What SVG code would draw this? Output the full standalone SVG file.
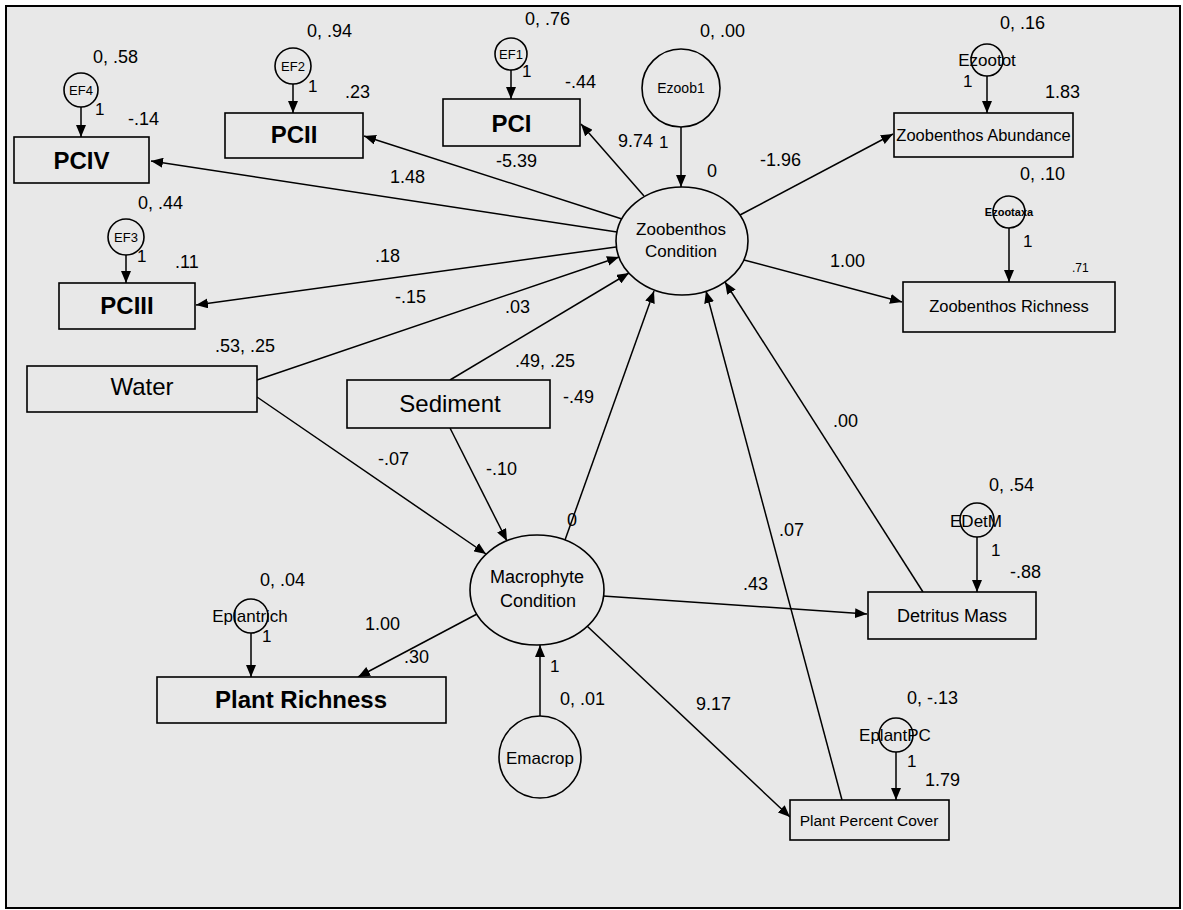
<svg xmlns="http://www.w3.org/2000/svg" width="1183" height="910" viewBox="0 0 1183 910">
<defs>
<marker id="ah" viewBox="0 0 12 10" refX="12" refY="5" markerWidth="12" markerHeight="10" orient="auto" markerUnits="userSpaceOnUse"><path d="M0,0 L12,5 L0,10 z" fill="#000"/></marker>
<style>
.bg{fill:#e8e8e8;stroke:#000;stroke-width:2}
.box{fill:#e8e8e8;stroke:#000;stroke-width:1.6}
.ell{fill:#e8e8e8;stroke:#000;stroke-width:1.6}
.con line{stroke:#000;stroke-width:1.5;marker-end:url(#ah)}
text{font-family:"Liberation Sans",Arial,sans-serif;fill:#000}
.num{font-size:18px}
.one{font-size:17px}
.pc{font-size:24px;font-weight:bold;text-anchor:middle}
.big{font-size:24px;text-anchor:middle}
.lat{font-size:17px;text-anchor:middle}
.err{font-size:13px;text-anchor:middle}
.mid{text-anchor:middle}
</style>
</defs>
<rect x="0" y="0" width="1183" height="910" fill="#fff"/>
<rect class="bg" x="6" y="6" width="1174" height="902"/>

<g id="connectors" class="con">
<line x1="617" y1="232" x2="151" y2="161"/>
<line x1="622" y1="219" x2="364" y2="136"/>
<line x1="644" y1="196" x2="581" y2="124"/>
<line x1="616" y1="247" x2="196" y2="305"/>
<line x1="257" y1="380" x2="619" y2="257"/>
<line x1="450" y1="380" x2="629" y2="273"/>
<line x1="565" y1="540" x2="654" y2="291"/>
<line x1="842" y1="800" x2="706" y2="291"/>
<line x1="923" y1="592" x2="725" y2="282"/>
<line x1="740" y1="215" x2="893" y2="134"/>
<line x1="744" y1="260" x2="902" y2="302"/>
<line x1="257" y1="397" x2="486" y2="554"/>
<line x1="450" y1="428" x2="507" y2="541"/>
<line x1="477" y1="614" x2="358" y2="677"/>
<line x1="603" y1="596" x2="867" y2="614"/>
<line x1="587" y1="626" x2="790" y2="817"/>
<line x1="540" y1="716" x2="540" y2="645"/>
<line x1="81" y1="107" x2="81" y2="137"/>
<line x1="293" y1="84" x2="293" y2="113"/>
<line x1="126" y1="255" x2="126" y2="283"/>
<line x1="511" y1="70" x2="511" y2="99"/>
<line x1="681" y1="127" x2="681" y2="187"/>
<line x1="987" y1="76" x2="987" y2="113"/>
<line x1="1009" y1="228" x2="1009" y2="282"/>
<line x1="977" y1="537" x2="977" y2="592"/>
<line x1="896" y1="752" x2="896" y2="800"/>
<line x1="251" y1="633" x2="251" y2="677"/>
</g>

<g id="PCIV"><rect class="box" x="14" y="137" width="135" height="46"/><text class="pc" x="81.5" y="169">PCIV</text></g>
<g id="PCII"><rect class="box" x="225" y="113" width="138" height="45"/><text class="pc" x="294" y="143">PCII</text></g>
<g id="PCIII"><rect class="box" x="59" y="283" width="136" height="46"/><text class="pc" x="127" y="314">PCIII</text></g>
<g id="PCI"><rect class="box" x="443" y="99" width="137" height="47"/><text class="pc" x="511.5" y="132">PCI</text></g>
<g id="ZoobAbund"><rect class="box" x="894" y="113" width="179" height="44"/><text class="mid" style="font-size:16.5px" x="983.5" y="141">Zoobenthos Abundance</text></g>
<g id="ZoobRich"><rect class="box" x="903" y="282" width="212" height="50"/><text class="mid" style="font-size:16.5px" x="1009" y="312">Zoobenthos Richness</text></g>
<g id="Water"><rect class="box" x="27" y="366" width="230" height="46"/><text class="big" x="142" y="395">Water</text></g>
<g id="Sediment"><rect class="box" x="347" y="380" width="203" height="48"/><text class="big" x="450" y="412">Sediment</text></g>
<g id="PlantRich"><rect class="box" x="157" y="677" width="289" height="46"/><text class="pc" x="301" y="708">Plant Richness</text></g>
<g id="Detritus"><rect class="box" x="868" y="592" width="168" height="47"/><text class="mid" style="font-size:18px" x="952" y="622">Detritus Mass</text></g>
<g id="PlantPC"><rect class="box" x="790" y="800" width="159" height="40"/><text class="mid" style="font-size:15.5px" x="869" y="826">Plant Percent Cover</text></g>

<g id="ZoobCond"><ellipse class="ell" cx="682" cy="241" rx="66" ry="54"/><text class="lat" x="681" y="235">Zoobenthos</text><text class="lat" x="681" y="257">Condition</text></g>
<g id="MacroCond"><ellipse class="ell" cx="537" cy="590" rx="67" ry="55"/><text class="lat" style="font-size:18px" x="537" y="583">Macrophyte</text><text class="lat" style="font-size:18px" x="538" y="607">Condition</text></g>

<g id="Ezoob1"><circle class="ell" cx="681" cy="88" r="39"/><text class="mid" style="font-size:14px" x="681" y="93">Ezoob1</text></g>
<g id="Emacrop"><circle class="ell" cx="540" cy="757" r="41"/><text class="lat" x="540" y="764">Emacrop</text></g>
<g id="EF4"><circle class="ell" cx="81" cy="90" r="17"/><text class="err" x="81" y="95">EF4</text></g>
<g id="EF2"><circle class="ell" cx="293" cy="66" r="18"/><text class="err" x="293" y="71">EF2</text></g>
<g id="EF3"><circle class="ell" cx="126" cy="237" r="18"/><text class="err" x="126" y="242">EF3</text></g>
<g id="EF1"><circle class="ell" cx="511" cy="54" r="16"/><text class="err" x="511" y="59">EF1</text></g>
<g id="Ezootot"><circle class="ell" cx="987" cy="60" r="16"/><text class="lat" x="987" y="66">Ezootot</text></g>
<g id="Ezootaxa"><circle class="ell" cx="1009" cy="212" r="16"/><text class="mid" style="font-size:11px;font-weight:bold" x="1009" y="216">Ezootaxa</text></g>
<g id="EDetM"><circle class="ell" cx="977" cy="520" r="17"/><text class="lat" x="976" y="527">EDetM</text></g>
<g id="EplantPC"><circle class="ell" cx="896" cy="735" r="17"/><text class="lat" x="895" y="741">EplantPC</text></g>
<g id="Eplantrich"><circle class="ell" cx="251" cy="616" r="17"/><text class="lat" x="250" y="622">Eplantrich</text></g>

<g id="labels">
<text class="num" x="93" y="63">0, .58</text>
<text class="num" x="128" y="125">-.14</text>
<text class="one" x="95" y="115">1</text>
<text class="num" x="307" y="37">0, .94</text>
<text class="num" x="345" y="98">.23</text>
<text class="one" x="308" y="92">1</text>
<text class="num" x="525" y="25">0, .76</text>
<text class="num" x="565" y="88">-.44</text>
<text class="one" x="522" y="77">1</text>
<text class="num" x="496" y="167">-5.39</text>
<text class="num" x="700" y="37">0, .00</text>
<text class="num" x="618" y="147">9.74</text>
<text class="one" x="659" y="148">1</text>
<text class="num" x="707" y="177">0</text>
<text class="num" x="760" y="166">-1.96</text>
<text class="num" x="390" y="183">1.48</text>
<text class="num" x="138" y="209">0, .44</text>
<text class="one" x="137" y="262">1</text>
<text class="num" x="375" y="262">.18</text>
<text class="num" x="175" y="268">.11</text>
<text class="num" x="395" y="303">-.15</text>
<text class="num" x="505" y="313">.03</text>
<text class="num" x="215" y="352">.53, .25</text>
<text class="num" x="515" y="367">.49, .25</text>
<text class="num" x="563" y="403">-.49</text>
<text class="num" x="378" y="465">-.07</text>
<text class="num" x="486" y="475">-.10</text>
<text class="num" x="567" y="526">0</text>
<text class="num" x="833" y="427">.00</text>
<text class="num" x="779" y="536">.07</text>
<text class="num" x="743" y="590">.43</text>
<text class="num" x="989" y="491">0, .54</text>
<text class="one" x="991" y="556">1</text>
<text class="num" x="1010" y="578">-.88</text>
<text class="num" x="260" y="586">0, .04</text>
<text class="one" x="262" y="642">1</text>
<text class="num" x="365" y="630">1.00</text>
<text class="num" x="404" y="663">.30</text>
<text class="one" x="550" y="672">1</text>
<text class="num" x="560" y="705">0, .01</text>
<text class="num" x="696" y="710">9.17</text>
<text class="num" x="907" y="704">0, -.13</text>
<text class="one" x="907" y="767">1</text>
<text class="num" x="925" y="786">1.79</text>
<text class="num" x="1000" y="29">0, .16</text>
<text class="one" x="963" y="87">1</text>
<text class="num" x="1045" y="98">1.83</text>
<text class="num" x="1020" y="180">0, .10</text>
<text class="one" x="1023" y="247">1</text>
<text style="font-size:12px" x="1072" y="272">.71</text>
<text class="num" x="830" y="267">1.00</text>
</g>
</svg>
